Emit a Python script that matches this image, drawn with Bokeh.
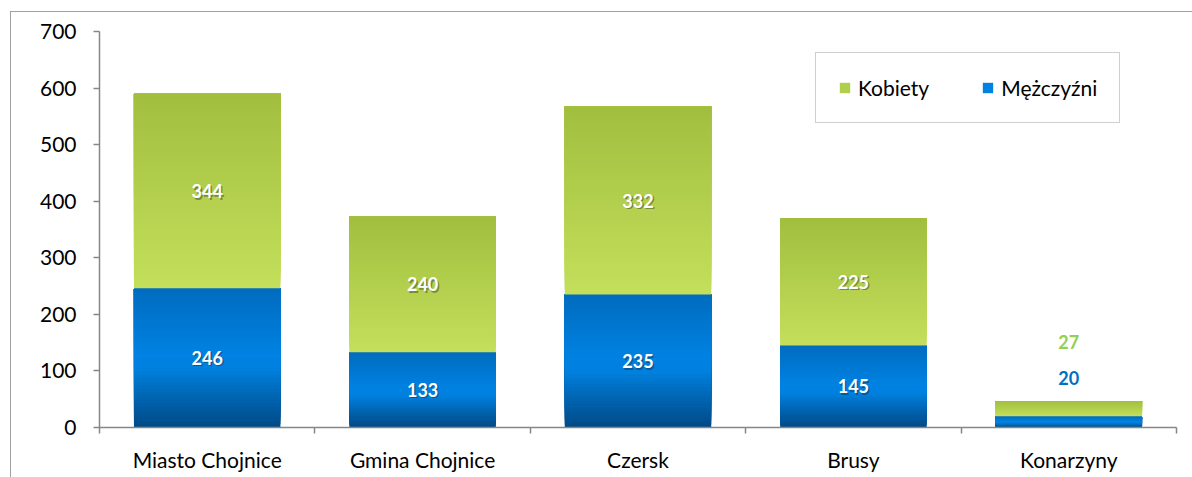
from bokeh.plotting import figure
from bokeh.models import (ColumnDataSource, FixedTicker, Legend, LegendItem, Range1d,
                          InlineStyleSheet)
from bokeh.core.properties import value
from bokeh.embed import file_html
from bokeh.resources import INLINE

# ---- data ----
categories = ["Miasto Chojnice", "Gmina Chojnice", "Czersk", "Brusy", "Konarzyny"]
men = [246, 133, 235, 145, 20]
women = [344, 240, 332, 225, 27]
y_ticks = [0, 100, 200, 300, 400, 500, 600, 700]

FONT = "Lato"
W, H = 1192, 477

border_css = InlineStyleSheet(css="""
:host { overflow: hidden; }
:host::after {
  content: ""; position: absolute; left: 10px; top: 11px;
  width: 3000px; height: 3000px; box-sizing: border-box;
  border: 1.5px solid #a0a0a0; pointer-events: none; z-index: 50;
}
""")

p = figure(width=W, height=H, x_range=Range1d(-0.5, 4.5), y_range=Range1d(0, 700),
           output_backend="svg", toolbar_location=None,
           min_border_left=99, min_border_right=16, min_border_top=31,
           min_border_bottom=50, stylesheets=[border_css])
p.outline_line_color = None
p.xgrid.visible = False
p.ygrid.visible = False
p.background_fill_color = "white"
p.border_fill_color = "white"


def hex2rgb(h):
    h = h.lstrip("#")
    return tuple(int(h[i:i + 2], 16) for i in (0, 2, 4))


def interp(stops, t):
    for (t0, c0), (t1, c1) in zip(stops[:-1], stops[1:]):
        if t0 <= t <= t1:
            f = 0 if t1 == t0 else (t - t0) / (t1 - t0)
            a, b = hex2rgb(c0), hex2rgb(c1)
            return "#%02x%02x%02x" % tuple(round(a[i] + (b[i] - a[i]) * f) for i in range(3))
    return stops[-1][1]


blue_stops = [(0.0, "#004a86"), (0.2, "#0062ad"), (0.42, "#0080de"),
              (0.52, "#0082e2"), (1.0, "#006cbf")]
green_stops = [(0.0, "#c3df5b"), (1.0, "#a2be3f")]

N = 40
xs = list(range(len(categories)))
BAR_W = 0.68


def draw_gradient(bottoms, heights, stops):
    # each band runs from its own start up to the segment top; later bands
    # cover the upper part, so there are no seams between bands
    rends = []
    for k in range(N):
        t0 = k / N
        src = ColumnDataSource(dict(
            x=xs,
            bottom=[b + h * t0 for b, h in zip(bottoms, heights)],
            top=[b + h for b, h in zip(bottoms, heights)],
        ))
        col = interp(stops, (k + 0.5) / N)
        r = p.vbar(x="x", bottom="bottom", top="top", width=BAR_W, source=src,
                   fill_color=col, line_color=None)
        rends.append(r)
    return rends


blue_r = draw_gradient([0] * len(men), men, blue_stops)
green_r = draw_gradient(men, women, green_stops)

# ---- data labels ----
inside = [i for i in xs if men[i] + women[i] > 100]
outside = [i for i in xs if men[i] + women[i] <= 100]

lab_x, lab_y, lab_t = [], [], []
for i in inside:
    lab_x += [i, i]
    lab_y += [men[i] / 2, men[i] + women[i] / 2]
    lab_t += [str(men[i]), str(women[i])]
lab_src = ColumnDataSource(dict(x=lab_x, y=lab_y, t=lab_t))
common = dict(text_align="center", text_baseline="middle", text_font=value(FONT),
              text_font_size="18px", text_font_style="bold")
p.text(x="x", y="y", text="t", source=lab_src, text_color="#1a1a1a", text_alpha=0.4,
       x_offset=1.5, y_offset=1.5, **common)
p.text(x="x", y="y", text="t", source=lab_src, text_color="white", **common)

o_x, o_y, o_t, o_c, o_off = [], [], [], [], []
for i in outside:
    tot = men[i] + women[i]
    o_x += [i, i]
    o_y += [tot, tot]
    o_t += [str(men[i]), str(women[i])]
    o_c += ["#0070c0", "#92d050"]
    o_off += [-23, -59]
out_src = ColumnDataSource(dict(x=o_x, y=o_y, t=o_t, c=o_c, off=o_off))
p.text(x="x", y="y", text="t", source=out_src, text_color="c", y_offset="off", **common)

# ---- axes ----
AX = "#868686"
TICK_FS = "21px"
xa = p.xaxis[0]
xa.ticker = FixedTicker(ticks=xs, minor_ticks=[i - 0.5 for i in range(len(categories) + 1)])
xa.major_label_overrides = {i: c for i, c in enumerate(categories)}
xa.major_tick_line_color = None
xa.major_tick_out = 6
xa.major_tick_in = 0
xa.minor_tick_out = 6
xa.minor_tick_in = 0
xa.minor_tick_line_color = AX
xa.minor_tick_line_width = 1.5
xa.axis_line_color = AX
xa.axis_line_width = 1.5
xa.major_label_text_font = FONT
xa.major_label_text_font_size = TICK_FS
xa.major_label_text_color = "#000000"
xa.major_label_standoff = 13

ya = p.yaxis[0]
ya.ticker = FixedTicker(ticks=y_ticks)
ya.minor_tick_line_color = None
ya.major_tick_out = 6
ya.major_tick_in = 0
ya.major_tick_line_color = AX
ya.major_tick_line_width = 1.5
ya.axis_line_color = AX
ya.axis_line_width = 1.5
ya.major_label_text_font = FONT
ya.major_label_text_font_size = TICK_FS
ya.major_label_text_color = "#000000"
ya.major_label_standoff = 17

# ---- legend ----
legend = Legend(items=[LegendItem(label="Kobiety", renderers=[green_r[N // 2]]),
                       LegendItem(label="Mężczyźni", renderers=[blue_r[N // 2]])],
                orientation="horizontal", location=(716, 304))
legend.label_text_font = FONT
legend.label_text_font_size = TICK_FS
legend.label_text_color = "#000000"
legend.glyph_width = 13
legend.glyph_height = 13
legend.label_standoff = 7
legend.spacing = 52
legend.padding = 22
legend.margin = 0
legend.border_line_color = "#a0a0a0"
legend.border_line_width = 1.5
legend.background_fill_color = "white"
legend.background_fill_alpha = 1
p.add_layout(legend, "center")

open("out.html", "w").write(file_html(p, INLINE))
